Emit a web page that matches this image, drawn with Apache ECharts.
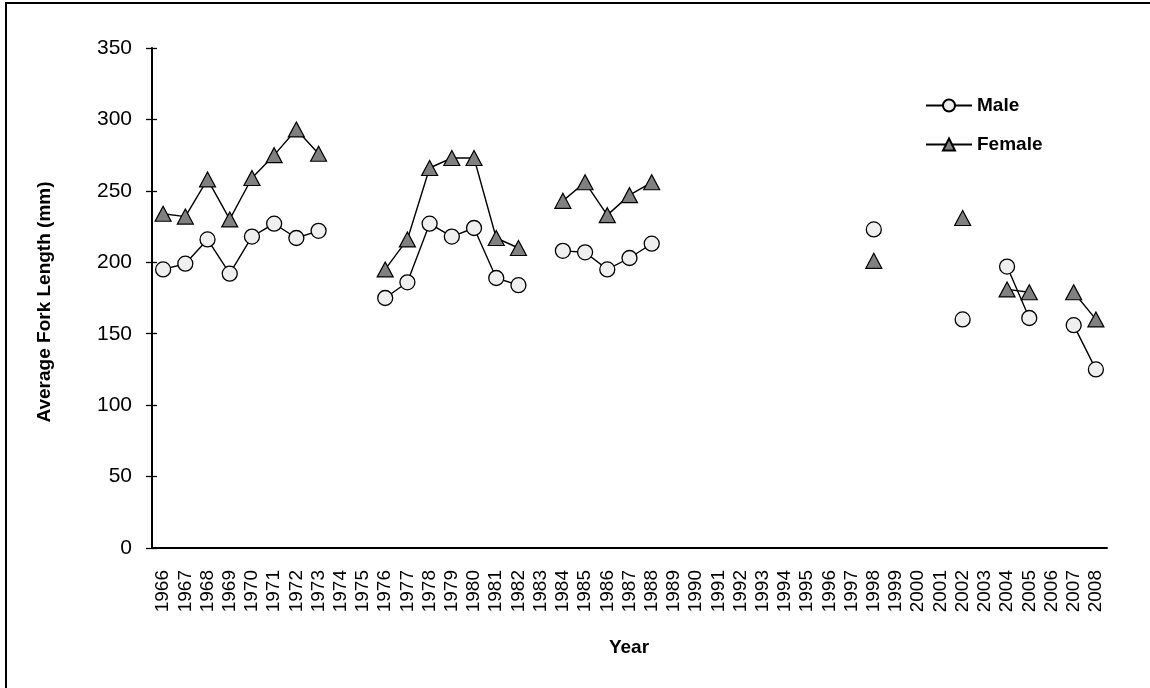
<!DOCTYPE html>
<html>
<head>
<meta charset="utf-8">
<script src="https://cdn.jsdelivr.net/npm/echarts@6/dist/echarts.min.js"></script>
<style>
  html, body { margin: 0; padding: 0; background: #fff; }
  #chart { width: 1150px; height: 688px; }
</style>
</head>
<body>
<div id="chart"></div>
<script>
// years on the x axis
var years = ['1966','1967','1968','1969','1970','1971','1972','1973','1974','1975',
  '1976','1977','1978','1979','1980','1981','1982','1983','1984','1985',
  '1986','1987','1988','1989','1990','1991','1992','1993','1994','1995',
  '1996','1997','1998','1999','2000','2001','2002','2003','2004','2005',
  '2006','2007','2008'];

// average fork length (mm), null = no sample that year
var male = [195, 199, 216, 192, 218, 227, 217, 222, null, null,
  175, 186, 227, 218, 224, 189, 184, null, 208, 207,
  195, 203, 213, null, null, null, null, null, null, null,
  null, null, 223, null, null, null, 160, null, 197, 161,
  null, 156, 125];
var female = [234, 232, 258, 230, 259, 275, 293, 276, null, null,
  195, 216, 266, 273, 273, 217, 210, null, 243, 256,
  233, 247, 256, null, null, null, null, null, null, null,
  null, null, 201, null, null, null, 231, null, 181, 179,
  null, 179, 160];

var yTicks = [0, 50, 100, 150, 200, 250, 300, 350];

var font = '"Liberation Sans", Arial, sans-serif';
var myChart = echarts.init(document.getElementById('chart'));

var option = {
  backgroundColor: '#fff',
  animation: false,
  grid: { left: 152, right: 43, top: 48, bottom: 140 },
  legend: {
    orient: 'vertical',
    left: 925,
    top: 96,
    padding: 0,
    itemWidth: 46,
    itemHeight: 15,
    itemGap: 20,
    textStyle: { fontFamily: font, fontSize: 19, fontWeight: 'bold', color: '#000' },
    data: ['Male', 'Female']
  },
  xAxis: [
    {
      type: 'category',
      data: years,
      boundaryGap: true,
      axisLine: { lineStyle: { color: '#000', width: 2 } },
      axisTick: { length: 6, lineStyle: { color: '#000', width: 1.3 } },
      axisLabel: { rotate: 90, interval: 0, margin: 22, color: '#000', fontFamily: font, fontSize: 19 },
      splitLine: { show: false }
    },
    {
      // second copy only to get ticks that cross the axis line
      type: 'category',
      data: years,
      position: 'bottom',
      boundaryGap: true,
      axisLine: { show: false },
      axisTick: { inside: true, length: 5, lineStyle: { color: '#000', width: 1.3 } },
      axisLabel: { show: false },
      splitLine: { show: false }
    }
  ],
  yAxis: [
    {
      type: 'value',
      min: 0,
      max: 350,
      interval: 50,
      axisLine: { show: true, lineStyle: { color: '#000', width: 2 } },
      axisTick: { show: true, length: 6, lineStyle: { color: '#000', width: 1.3 } },
      axisLabel: {
        margin: 20, color: '#000', fontFamily: font, fontSize: 21,
        formatter: function (v) { return yTicks.indexOf(v) >= 0 ? String(v) : ''; }
      },
      splitLine: { show: false }
    },
    {
      type: 'value',
      min: 0,
      max: 350,
      interval: 50,
      position: 'left',
      axisLine: { show: false },
      axisTick: { show: true, inside: true, length: 5, lineStyle: { color: '#000', width: 1.3 } },
      axisLabel: { show: false },
      splitLine: { show: false }
    }
  ],
  series: [
    {
      name: 'Male',
      type: 'line',
      data: male,
      symbol: 'circle',
      symbolSize: 15,
      connectNulls: false,
      lineStyle: { color: '#000', width: 1.4 },
      itemStyle: { color: '#efefef', borderColor: '#000', borderWidth: 1.3 },
      z: 3
    },
    {
      name: 'Female',
      type: 'line',
      data: female,
      symbol: 'triangle',
      symbolSize: [16, 15],
      connectNulls: false,
      lineStyle: { color: '#000', width: 1.4 },
      itemStyle: { color: '#808080', borderColor: '#000', borderWidth: 1.2 },
      z: 4
    }
  ],
  graphic: [
    {
      type: 'rect',
      shape: { x: 6, y: 3, width: 1160, height: 700 },
      style: { fill: null, stroke: '#000', lineWidth: 2 },
      silent: true
    },
    {
      type: 'text',
      x: 45,
      y: 302,
      rotation: Math.PI / 2,
      style: {
        text: 'Average Fork Length (mm)',
        fontFamily: font, fontSize: 19, fontWeight: 'bold', fill: '#000',
        align: 'center', verticalAlign: 'middle'
      }
    },
    {
      type: 'text',
      x: 629,
      y: 648,
      style: {
        text: 'Year',
        fontFamily: font, fontSize: 19, fontWeight: 'bold', fill: '#000',
        align: 'center', verticalAlign: 'middle'
      }
    }
  ]
};

myChart.setOption(option);
</script>
</body>
</html>
